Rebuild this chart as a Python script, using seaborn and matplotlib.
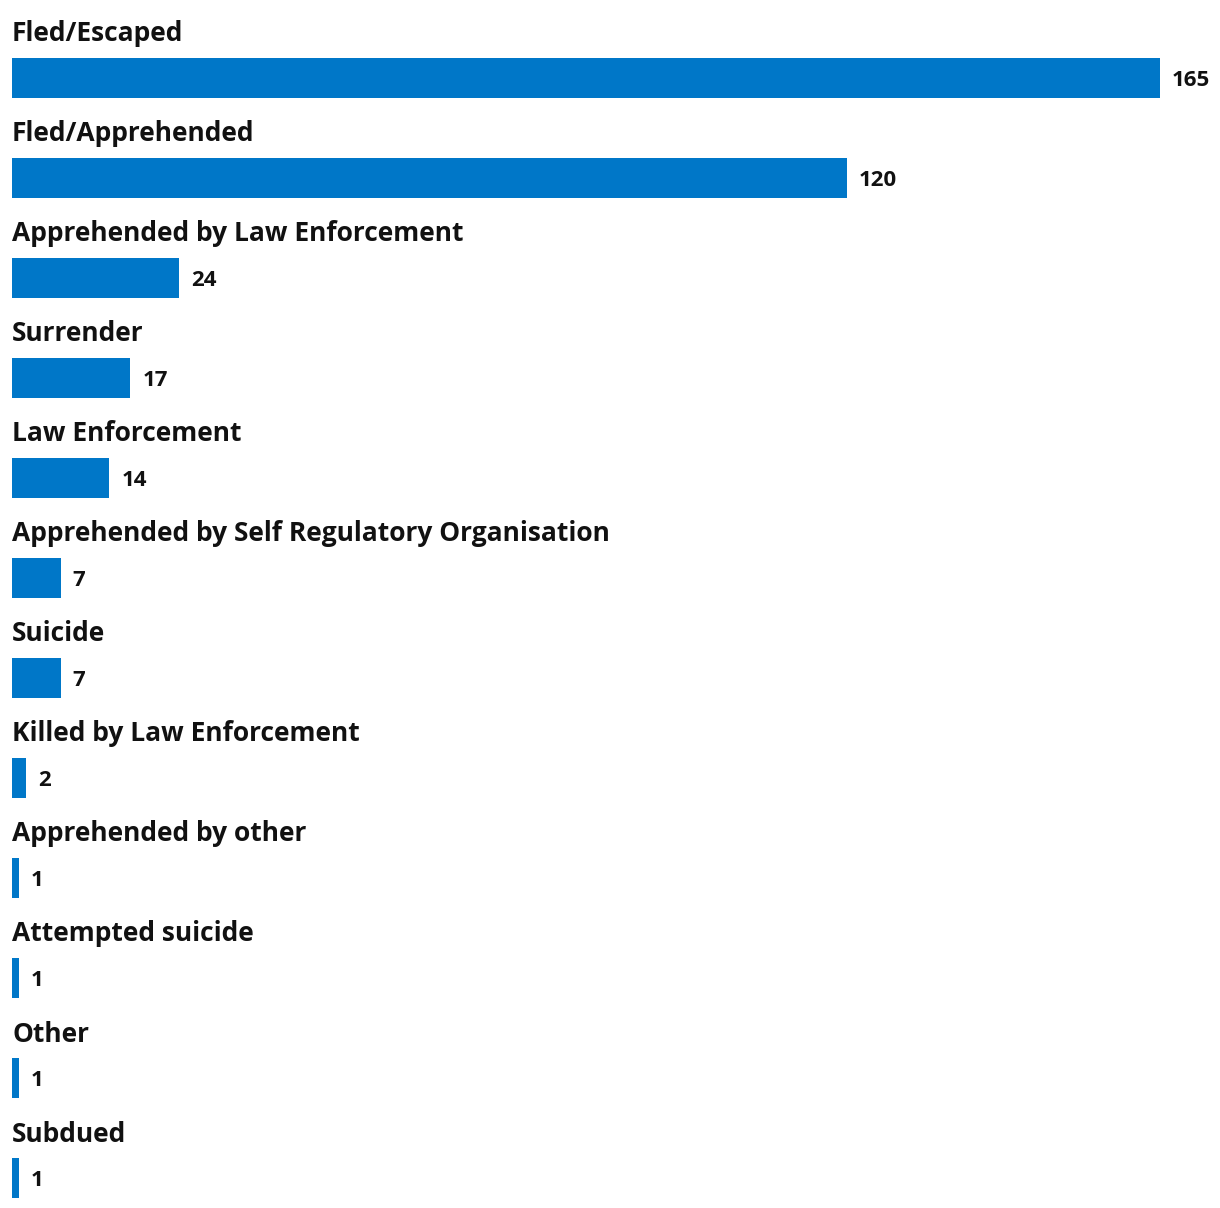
import matplotlib
matplotlib.use("Agg")
import matplotlib.pyplot as plt
import seaborn as sns
import pandas as pd

categories = ["Fled/Escaped", "Fled/Apprehended", "Apprehended by Law Enforcement",
              "Surrender", "Law Enforcement", "Apprehended by Self Regulatory Organisation",
              "Suicide", "Killed by Law Enforcement", "Apprehended by other",
              "Attempted suicide", "Other", "Subdued"]
values = [165, 120, 24, 17, 14, 7, 7, 2, 1, 1, 1, 1]

df = pd.DataFrame({"cat": categories, "val": values})

sns.set_theme(style="white")
plt.rcParams['font.family'] = ['Open Sans', 'DejaVu Sans']

W, H = 1220, 1208
fig = plt.figure(figsize=(W / 100, H / 100), dpi=100)
ax = fig.add_axes([12 / W, 0, 1 - 12 / W, 1])

sns.barplot(data=df, y="cat", x="val", orient="h", color="#0077C8",
            saturation=1, width=0.4, linewidth=0, ax=ax)

px_per_unit = (1160 - 12) / 165
ax.set_xlim(0, (W - 12) / px_per_unit)
ax.set_ylim((H - 78) / 100, -0.78)

for i, (c, v) in enumerate(zip(categories, values)):
    ax.text(0, i - 0.365, c, ha="left", va="baseline", fontsize=19,
            fontweight="bold", color="#111111")
    ax.annotate(str(v), xy=(v, i), xytext=(8.6, 0), textcoords="offset points",
                ha="left", va="center_baseline", fontsize=16, fontweight="bold",
                color="#111111")

ax.set_axis_off()
fig.savefig("out.png", dpi=100)
